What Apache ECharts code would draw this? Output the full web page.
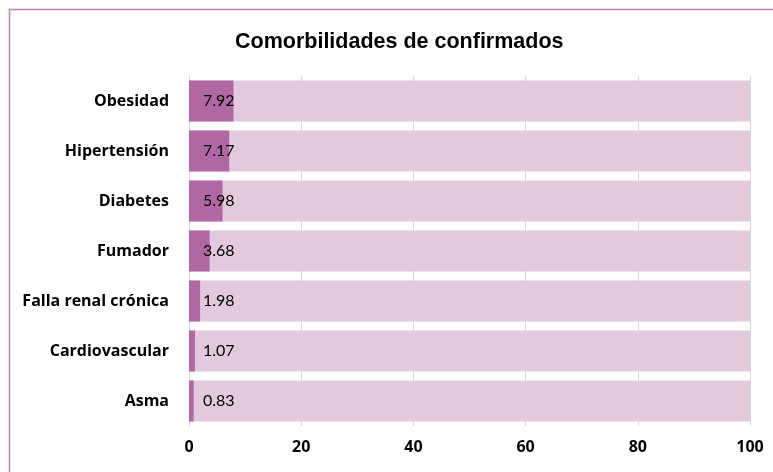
<!DOCTYPE html>
<html lang="es">
<head>
  <meta charset="UTF-8">
  <title>Comorbilidades de confirmados</title>
  <script src="https://cdn.jsdelivr.net/npm/echarts@6/dist/echarts.min.js"></script>
  <style>
    html, body { margin: 0; padding: 0; background: #fff; }
    #main { width: 773px; height: 472px; }
  </style>
</head>
<body>
  <div id="main"></div>
  <script type="text/javascript">
    // datos
    var categorias = ['Obesidad', 'Hipertensión', 'Diabetes', 'Fumador', 'Falla renal crónica', 'Cardiovascular', 'Asma'];
    var porcentajes = [7.92, 7.17, 5.98, 3.68, 1.98, 1.07, 0.83];
    var ticksX = [0, 20, 40, 60, 80, 100];

    var myChart = echarts.init(document.getElementById('main'));
    var option = {
      backgroundColor: '#fff',
      animation: false,
      title: {
        text: 'Comorbilidades de confirmados',
        left: 230,
        top: 26,
        textStyle: {
          fontFamily: 'Liberation Sans, Arial, sans-serif',
          fontSize: 21.5,
          fontWeight: 'bold',
          color: '#000'
        }
      },
      graphic: [{
        type: 'rect',
        shape: { x: 9.5, y: 9.5, width: 780, height: 480 },
        style: { fill: 'none', stroke: '#c27db6', lineWidth: 1.5 }
      }],
      grid: { left: 189, right: 23, top: 76, bottom: 46 },
      xAxis: {
        type: 'value',
        min: ticksX[0],
        max: ticksX[ticksX.length - 1],
        interval: 20,
        axisLine: { show: false },
        axisTick: { show: false },
        splitLine: { show: true, lineStyle: { color: '#d9d9d9', width: 1 } },
        axisLabel: {
          margin: 13,
          fontFamily: 'Open Sans, sans-serif',
          fontWeight: 'bold',
          fontSize: 16,
          color: '#000'
        }
      },
      yAxis: {
        type: 'category',
        data: categorias,
        inverse: true,
        axisTick: { show: false },
        axisLine: { show: true, lineStyle: { color: '#d9d9d9' } },
        axisLabel: {
          margin: 20,
          fontFamily: 'Open Sans, sans-serif',
          fontWeight: 'bold',
          fontSize: 16,
          color: '#000'
        }
      },
      series: [{
        type: 'bar',
        data: porcentajes,
        barCategoryGap: '18%',
        showBackground: true,
        backgroundStyle: { color: '#e2c9de' },
        itemStyle: { color: '#b067a3' },
        label: {
          show: true,
          position: 'insideLeft',
          distance: 14,
          fontFamily: 'Lato, Open Sans, sans-serif',
          fontSize: 16,
          color: '#000',
          formatter: function (p) { return p.value.toFixed(2); }
        }
      }]
    };
    myChart.setOption(option);
  </script>
</body>
</html>
